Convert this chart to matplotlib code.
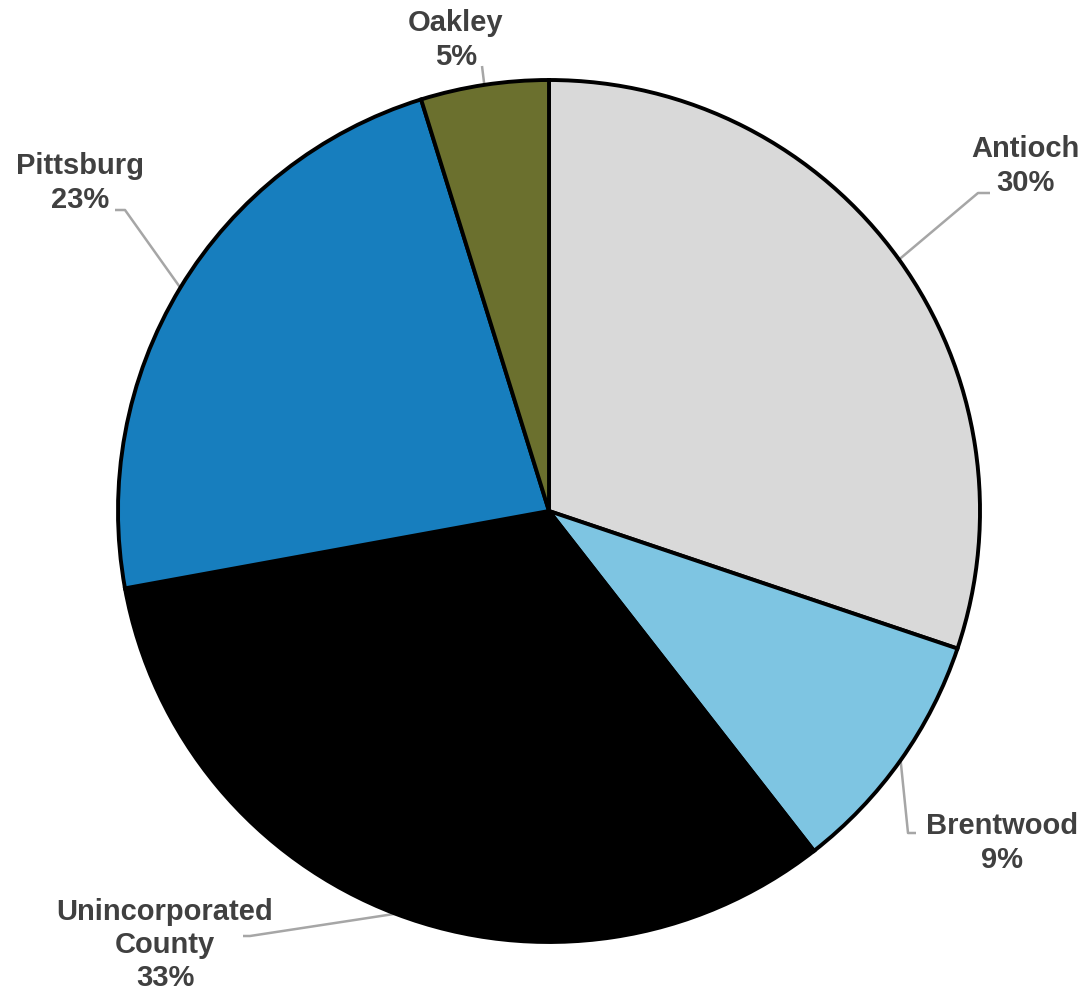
import matplotlib.pyplot as plt
import numpy as np

plt.rcParams['font.family'] = ['Liberation Sans', 'DejaVu Sans']

# slice data (clockwise from 12 o'clock)
labels = ["Antioch", "Brentwood", "Unincorporated\nCounty", "Pittsburg", "Oakley"]
shares = [30.2, 9.3, 32.7, 23.1, 4.8]
pct_text = ["30%", "9%", "33%", "23%", "5%"]
colors = ["#D9D9D9", "#7EC5E2", "#000000", "#177EBE", "#6B702E"]

W, H = 1086, 997
fig = plt.figure(figsize=(W / 100, H / 100), dpi=100)
ax = fig.add_axes([0, 0, 1, 1])

cx, cy, R = 549, H - 511, 431
wedges, _ = ax.pie(shares, colors=colors, startangle=90, counterclock=False,
                   radius=R, center=(cx, cy), frame=True,
                   wedgeprops=dict(edgecolor='black', linewidth=2.8))
ax.set_xlim(0, W)
ax.set_ylim(0, H)
ax.set_aspect('equal')
ax.axis('off')

# label centres and leader elbows (pixel layout, y from top)
label_pos = [(1025, 166), (1002, 843), (165, 945), (80, 183), (456, 40)]
elbows = [[(978, 193), (990, 193)],
          [(908, 833), (916, 833)],
          [(250, 936), (243, 936)],
          [(125, 210), (115, 210)],
          [(482, 66)]]

for w, lab, pct, (lx, ly), elb in zip(wedges, labels, pct_text, label_pos, elbows):
    mid = np.deg2rad((w.theta1 + w.theta2) / 2)
    ex, ey = cx + R * np.cos(mid), cy + R * np.sin(mid)
    xs = [ex] + [p[0] for p in elb]
    ys = [ey] + [H - p[1] for p in elb]
    ax.plot(xs, ys, color='#A6A6A6', lw=1.8, solid_capstyle='butt', zorder=0.5)
    ax.text(lx, H - ly, lab + "\n" + pct, ha='center', va='center',
            fontsize=21, fontweight='bold', color='#404040', linespacing=1.25)

fig.savefig("out.png", dpi=100)
